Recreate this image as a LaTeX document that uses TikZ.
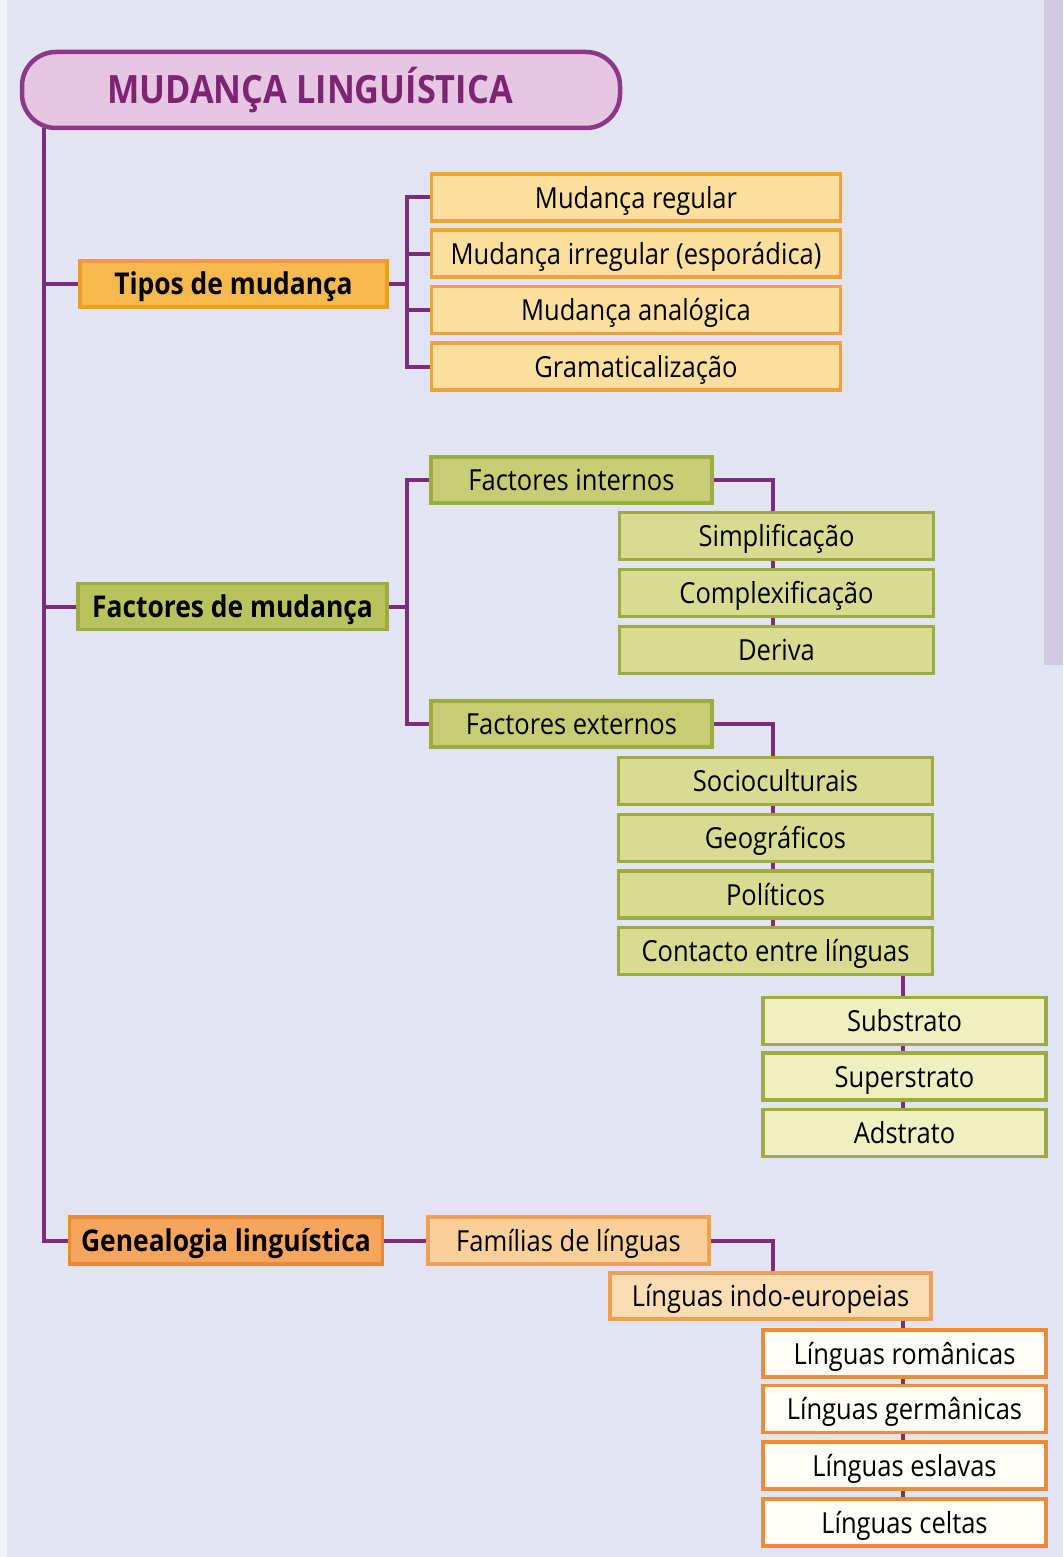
\documentclass[tikz,border=0pt]{standalone}
\usepackage{fontspec}
\setmainfont[FakeStretch=0.88]{Open Sans}
\usetikzlibrary{backgrounds}
\definecolor{bg}{HTML}{E3E4F2}
\definecolor{band}{HTML}{CFCADF}
\definecolor{linec}{HTML}{7B2D7C}
\definecolor{titlefill}{HTML}{E7C6E3}
\definecolor{titleline}{HTML}{8C3787}
\definecolor{titletext}{HTML}{7D2572}
\definecolor{tipfill}{HTML}{F5B94E}
\definecolor{tipline}{HTML}{EF9B2F}
\definecolor{ofill}{HTML}{FADF9F}
\definecolor{oline}{HTML}{F0A239}
\definecolor{gfill}{HTML}{B8C35E}
\definecolor{gline}{HTML}{9CAB42}
\definecolor{gtwofill}{HTML}{C6CD74}
\definecolor{gthreefill}{HTML}{D8DC93}
\definecolor{gfourfill}{HTML}{EEF0C2}
\definecolor{genfill}{HTML}{F6A55C}
\definecolor{genline}{HTML}{EC8A33}
\definecolor{famfill}{HTML}{F9D09A}
\definecolor{famline}{HTML}{F0A050}
\definecolor{indofill}{HTML}{FBDDB4}
\definecolor{wfill}{HTML}{FFFDF8}
\definecolor{wline}{HTML}{F08C35}
\tikzset{
  conn/.style={draw=linec, line width=4pt},
  box/.style={rectangle, draw, line width=3.5pt, inner sep=0pt, minimum height=46pt,
    text height=24pt, text depth=3pt, font=\fontsize{29}{35}\selectfont},
  boldbox/.style={box, font=\fontsize{30}{36}\selectfont\bfseries},
  tipbox/.style={boldbox, fill=tipfill, draw=tipline, minimum width=307pt},
  obox/.style={box, fill=ofill, draw=oline, minimum width=409pt, minimum height=47pt},
  factbox/.style={boldbox, fill=gfill, draw=gline, minimum width=309pt},
  gtwobox/.style={box, fill=gtwofill, draw=gline, minimum width=281pt},
  gthreebox/.style={box, fill=gthreefill, draw=gline, minimum width=314pt, minimum height=47pt},
  gfourbox/.style={box, fill=gfourfill, draw=gline, minimum width=283pt, minimum height=47pt},
  genbox/.style={boldbox, fill=genfill, draw=genline, minimum width=313pt, minimum height=47pt},
  fambox/.style={box, fill=famfill, draw=famline, minimum width=281pt, minimum height=47pt},
  indobox/.style={box, fill=indofill, draw=famline, minimum width=321pt},
  wbox/.style={box, fill=wfill, draw=wline, minimum width=283pt, minimum height=47pt},
}
\begin{document}
\begin{tikzpicture}[x=1pt,y=-1pt]
\useasboundingbox (0,0) rectangle (1063,1557);

% title
\node[rectangle, rounded corners=34pt, draw=titleline, fill=titlefill, line width=4.5pt,
      minimum width=598pt, minimum height=76pt, inner sep=0pt,
      text=titletext, font=\fontsize{39}{44}\selectfont\bfseries,
      text height=28pt, text depth=0pt]
  (title) at (321,90) {\hspace*{-22pt}MUDANÇA LINGUÍSTICA};

% Tipos de mudança
\node[tipbox] (tipos) at (233.5,284) {Tipos de mudança};
\node[obox] (mreg) at (636,197.5) {Mudança regular};
\node[obox] (mirr) at (636,253.5) {Mudança irregular (esporádica)};
\node[obox] (mana) at (636,310) {Mudança analógica};
\node[obox] (gram) at (636,366.5) {Gramaticalização};

% Factores de mudança
\node[factbox] (fact) at (232.5,606.5) {Factores de mudança};
\node[gtwobox] (fint) at (571.5,480) {Factores internos};
\node[gthreebox] (simp) at (776.5,536) {Simplificação};
\node[gthreebox] (comp) at (776.5,593) {Complexificação};
\node[gthreebox] (deriva) at (776.5,650) {Deriva};
\node[gtwobox] (fext) at (571.5,724) {Factores externos};
\node[gthreebox] (socio) at (775.5,781) {Socioculturais};
\node[gthreebox] (geo) at (775.5,838) {Geográficos};
\node[gthreebox] (pol) at (775.5,894.5) {Políticos};
\node[gthreebox] (cont) at (775.5,951) {Contacto entre línguas};
\node[gfourbox] (subs) at (904.5,1021) {Substrato};
\node[gfourbox] (super) at (904.5,1076.5) {Superstrato};
\node[gfourbox] (ads) at (904.5,1133) {Adstrato};

% Genealogia linguística
\node[genbox] (gen) at (226,1240.5) {Genealogia linguística};
\node[fambox] (fam) at (568.5,1240.5) {Famílias de línguas};
\node[indobox] (indo) at (770.5,1296) {Línguas indo-europeias};
\node[wbox] (rom) at (904.5,1353.5) {Línguas românicas};
\node[wbox] (ger) at (904.5,1409) {Línguas germânicas};
\node[wbox] (esl) at (904.5,1465.5) {Línguas eslavas};
\node[wbox] (cel) at (904.5,1522.5) {Línguas celtas};

\coordinate (t0) at (44,128);
\coordinate (b1) at (407,284);
\coordinate (b2) at (407,606.5);
\coordinate (v1) at (773,0);
\coordinate (v2) at (903,0);

\begin{pgfonlayer}{background}
  \fill[bg] (0,0) rectangle (1063,1557);
  \fill[band] (1044,0) rectangle (1063,665);
  \fill[white, opacity=0.6] (0,0) rectangle (7,1557);
  % trunk
  \draw[conn] (t0) |- (gen.west);
  \draw[conn] (t0 |- tipos.west) -- (tipos.west);
  \draw[conn] (t0 |- fact.west) -- (fact.west);
  % tipos
  \draw[conn] (tipos.east) -- (b1);
  \draw[conn] (mreg.west) -| (b1) |- (gram.west);
  \draw[conn] (mirr.west) -- (b1 |- mirr.west);
  \draw[conn] (mana.west) -- (b1 |- mana.west);
  % factores
  \draw[conn] (fact.east) -- (b2);
  \draw[conn] (fint.west) -| (b2) |- (fext.west);
  \draw[conn] (fint.east) -| (v1 |- deriva.center);
  \draw[conn] (fext.east) -| (v1 |- cont.center);
  \draw[conn] (v2 |- cont.center) -- (v2 |- ads.center);
  % genealogia
  \draw[conn] (gen.east) -- (fam.west);
  \draw[conn] (fam.east) -| (v1 |- indo.center);
  \draw[conn] (v2 |- indo.center) -- (v2 |- cel.center);
\end{pgfonlayer}
\end{tikzpicture}
\end{document}
